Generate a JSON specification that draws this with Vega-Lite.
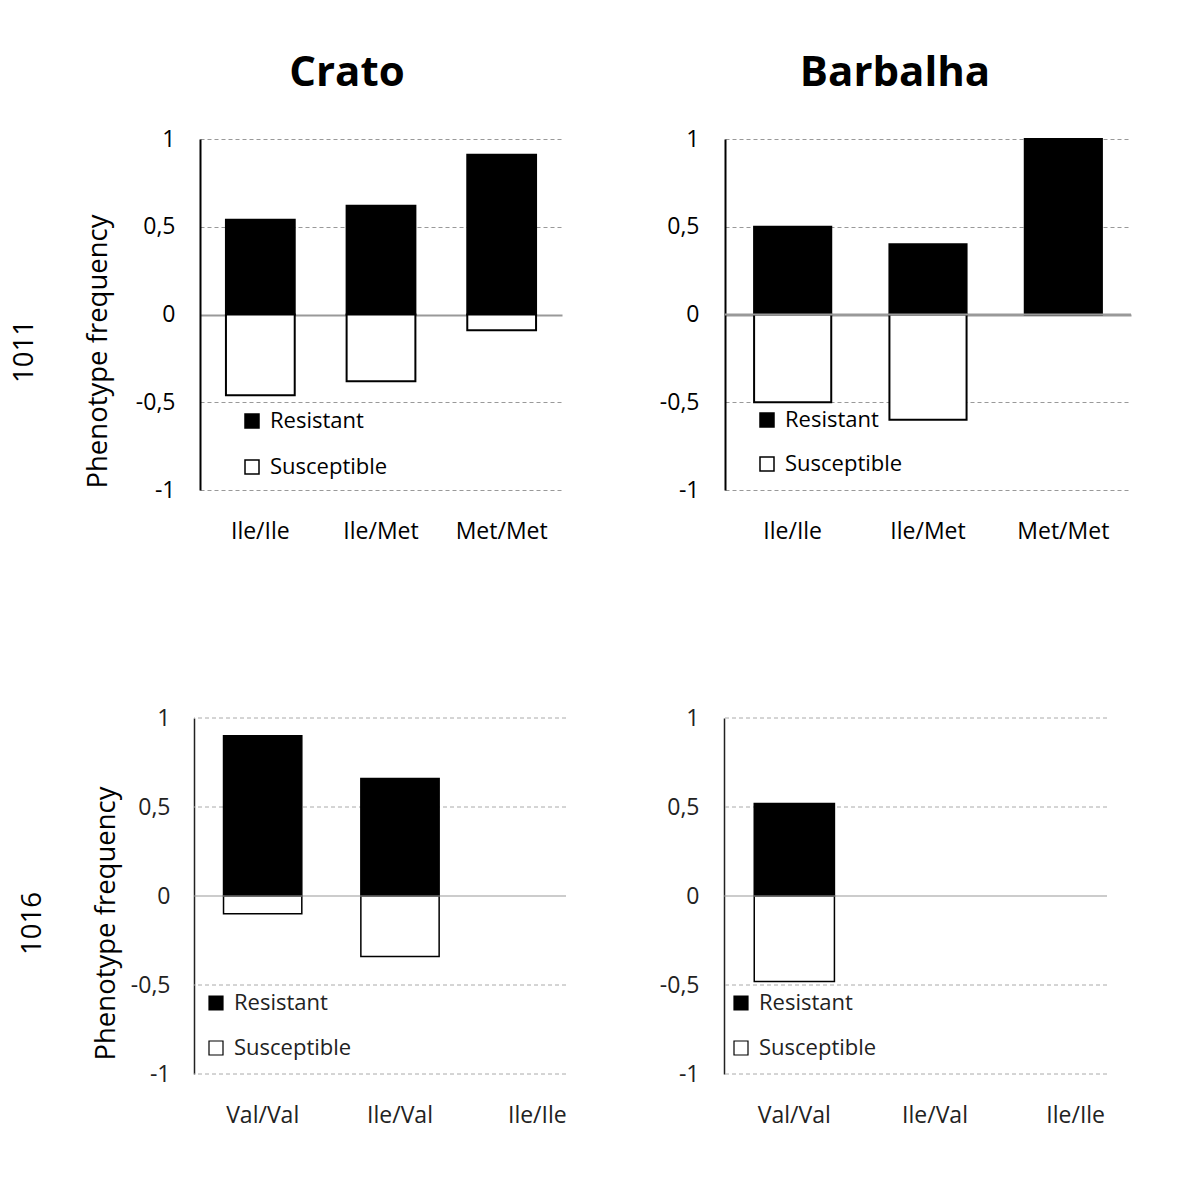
{
  "$schema": "https://vega.github.io/schema/vega-lite/v6.json",
  "background": "white",
  "padding": {"left": 10, "top": 52, "right": 5, "bottom": 5},
  "config": {"view": {"stroke": null}, "font": "Open Sans"},
  "datasets": {
    "freq": [
      {"locus": "1011", "city": "Crato", "genotype": "Ile/Ile", "phenotype": "Resistant", "value": 0.54},
      {"locus": "1011", "city": "Crato", "genotype": "Ile/Ile", "phenotype": "Susceptible", "value": -0.46},
      {"locus": "1011", "city": "Crato", "genotype": "Ile/Met", "phenotype": "Resistant", "value": 0.62},
      {"locus": "1011", "city": "Crato", "genotype": "Ile/Met", "phenotype": "Susceptible", "value": -0.38},
      {"locus": "1011", "city": "Crato", "genotype": "Met/Met", "phenotype": "Resistant", "value": 0.91},
      {"locus": "1011", "city": "Crato", "genotype": "Met/Met", "phenotype": "Susceptible", "value": -0.09},
      {"locus": "1011", "city": "Barbalha", "genotype": "Ile/Ile", "phenotype": "Resistant", "value": 0.5},
      {"locus": "1011", "city": "Barbalha", "genotype": "Ile/Ile", "phenotype": "Susceptible", "value": -0.5},
      {"locus": "1011", "city": "Barbalha", "genotype": "Ile/Met", "phenotype": "Resistant", "value": 0.4},
      {"locus": "1011", "city": "Barbalha", "genotype": "Ile/Met", "phenotype": "Susceptible", "value": -0.6},
      {"locus": "1011", "city": "Barbalha", "genotype": "Met/Met", "phenotype": "Resistant", "value": 1.0},
      {"locus": "1011", "city": "Barbalha", "genotype": "Met/Met", "phenotype": "Susceptible", "value": 0},
      {"locus": "1016", "city": "Crato", "genotype": "Val/Val", "phenotype": "Resistant", "value": 0.9},
      {"locus": "1016", "city": "Crato", "genotype": "Val/Val", "phenotype": "Susceptible", "value": -0.1},
      {"locus": "1016", "city": "Crato", "genotype": "Ile/Val", "phenotype": "Resistant", "value": 0.66},
      {"locus": "1016", "city": "Crato", "genotype": "Ile/Val", "phenotype": "Susceptible", "value": -0.34},
      {"locus": "1016", "city": "Barbalha", "genotype": "Val/Val", "phenotype": "Resistant", "value": 0.52},
      {"locus": "1016", "city": "Barbalha", "genotype": "Val/Val", "phenotype": "Susceptible", "value": -0.48}
    ]
  },
  "resolve": {"scale": {"fill": "independent"}, "legend": {"fill": "independent"}},
  "columns": 1,
  "align": "none",
  "spacing": 164,
  "concat": [
    {
      "spacing": 97,
      "resolve": {"scale": {"fill": "independent"}, "legend": {"fill": "independent"}},
      "hconcat": [
        {
          "width": 368, "height": 351,
          "title": {"text": "Crato", "fontSize": 42, "fontWeight": "bold", "font": "Open Sans", "anchor": "middle", "frame": "group", "dx": -31, "offset": -9, "baseline": "bottom", "color": "black"},
          "data": {"name": "freq"},
          "transform": [{"filter": "datum.locus == '1011' && datum.city == 'Crato' && datum.value != 0"}],
          "layer": [
            {
              "mark": {"type": "bar", "stroke": "black", "strokeWidth": 2},
              "encoding": {
                "x": {"field": "genotype", "type": "nominal", "sort": null, "title": null,
                  "scale": {"domain": ["Ile/Ile", "Ile/Met", "Met/Met"], "range": [6, 368], "paddingInner": 0.43, "paddingOuter": 0.215},
                  "axis": {"domain": false, "ticks": false, "tickSize": 0, "labelFontSize": 23, "labelPadding": 30, "labelAngle": 0, "labelColor": "black", "labelFont": "Open Sans"}},
                "y": {"field": "value", "type": "quantitative", "stack": null, "scale": {"domain": [-1, 1]},
                  "axis": {"offset": -6, "values": [-1, -0.5, 0, 0.5, 1], "labelExpr": "replace(toString(datum.value), '.', ',')", "grid": true,
                    "gridDash": {"condition": {"test": "datum.value === 0", "value": [1, 0]}, "value": [4, 3]},
                    "gridColor": "#999",
                    "gridWidth": {"condition": {"test": "datum.value === 0", "value": 2.2}, "value": 1},
                    "ticks": false, "tickSize": 0, "domainColor": "black", "domainWidth": 2, "labelFontSize": 23, "labelPadding": 25, "labelColor": "black", "labelFont": "Open Sans",
                    "title": ["1011", "Phenotype frequency"], "titleFont": "Open Sans", "titleFontSize": 27.5, "titleFontWeight": "normal", "titleColor": "black", "titleLineHeight": 74, "titlePadding": 23, "titleY": 212}},
                "fill": {"field": "phenotype", "type": "nominal",
                  "scale": {"domain": ["Resistant", "Susceptible"], "range": ["black", "white"]},
                  "legend": {"orient": "none", "legendX": 47, "legendY": 271, "title": null, "symbolType": "square", "symbolSize": 196, "symbolStrokeColor": "black", "symbolStrokeWidth": 1.5, "labelFontSize": 22, "labelFont": "Open Sans", "labelOffset": 7, "rowPadding": 24, "labelColor": "black"}}
              }
            }
          ]
        },
        {
          "width": 406, "height": 351,
          "title": {"text": "Barbalha", "fontSize": 42, "fontWeight": "bold", "font": "Open Sans", "anchor": "middle", "frame": "group", "dx": -33, "offset": -9, "baseline": "bottom", "color": "black"},
          "data": {"name": "freq"},
          "transform": [{"filter": "datum.locus == '1011' && datum.city == 'Barbalha' && datum.value != 0"}],
          "layer": [
            {
              "mark": {"type": "bar", "stroke": "black", "strokeWidth": 2},
              "encoding": {
                "x": {"field": "genotype", "type": "nominal", "sort": null, "title": null,
                  "scale": {"domain": ["Ile/Ile", "Ile/Met", "Met/Met"], "paddingInner": 0.43, "paddingOuter": 0.215},
                  "axis": {"domain": false, "ticks": false, "tickSize": 0, "labelFontSize": 23, "labelPadding": 30, "labelAngle": 0, "labelColor": "black", "labelFont": "Open Sans"}},
                "y": {"field": "value", "type": "quantitative", "stack": null, "scale": {"domain": [-1, 1]},
                  "axis": {"values": [-1, -0.5, 0, 0.5, 1], "labelExpr": "replace(toString(datum.value), '.', ',')", "grid": true,
                    "gridDash": {"condition": {"test": "datum.value === 0", "value": [1, 0]}, "value": [4, 3]},
                    "gridColor": "#999",
                    "gridWidth": {"condition": {"test": "datum.value === 0", "value": 2.2}, "value": 1},
                    "ticks": false, "tickSize": 0, "domainColor": "black", "domainWidth": 2, "labelFontSize": 23, "labelPadding": 26, "labelColor": "black", "labelFont": "Open Sans", "title": null}},
                "fill": {"field": "phenotype", "type": "nominal",
                  "scale": {"domain": ["Resistant", "Susceptible"], "range": ["black", "white"]},
                  "legend": {"orient": "none", "legendX": 31, "legendY": 270, "title": null, "symbolType": "square", "symbolSize": 196, "symbolStrokeColor": "black", "symbolStrokeWidth": 1.5, "labelFontSize": 22, "labelFont": "Open Sans", "labelOffset": 7, "rowPadding": 22, "labelColor": "black"}}
              }
            },
            {"mark": {"type": "rule", "color": "#999", "strokeWidth": 2}, "data": {"values": [{}]}, "encoding": {"y": {"datum": 0}}}
          ]
        }
      ]
    },
    {
      "spacing": 53,
      "resolve": {"scale": {"fill": "independent"}, "legend": {"fill": "independent"}},
      "hconcat": [
        {
          "width": 372, "height": 356,
          "data": {"name": "freq"},
          "transform": [{"filter": "datum.locus == '1016' && datum.city == 'Crato' && datum.value != 0"}],
          "layer": [
            {"mark": {"type": "rule", "color": "#aaa", "strokeWidth": 1, "strokeDash": [4, 3]}, "data": {"values": [{}]}, "encoding": {"y": {"datum": 1}}},
            {"mark": {"type": "rule", "color": "#aaa", "strokeWidth": 1, "strokeDash": [4, 3]}, "data": {"values": [{}]}, "encoding": {"y": {"datum": 0.5}}},
            {"mark": {"type": "rule", "color": "#aaa", "strokeWidth": 1, "strokeDash": [4, 3]}, "data": {"values": [{}]}, "encoding": {"y": {"datum": -0.5}}},
            {"mark": {"type": "rule", "color": "#aaa", "strokeWidth": 1, "strokeDash": [4, 3]}, "data": {"values": [{}]}, "encoding": {"y": {"datum": -1}}},
            {
              "mark": {"type": "bar", "stroke": "black", "strokeWidth": 1.5},
              "encoding": {
                "x": {"field": "genotype", "type": "nominal", "sort": null, "title": null,
                  "scale": {"domain": ["Val/Val", "Ile/Val", "Ile/Ile"], "range": [0, 412], "paddingInner": 0.43, "paddingOuter": 0.215},
                  "axis": {"domain": false, "ticks": false, "tickSize": 0, "labelFontSize": 23, "labelPadding": 30, "labelAngle": 0, "labelColor": "#222", "labelFont": "Open Sans"}},
                "y": {"field": "value", "type": "quantitative", "stack": null, "scale": {"domain": [-1, 1]},
                  "axis": {"values": [-1, -0.5, 0, 0.5, 1], "labelExpr": "replace(toString(datum.value), '.', ',')", "grid": false, "ticks": false, "tickSize": 0, "domainColor": "#222", "domainWidth": 1.5, "labelFontSize": 23, "labelPadding": 24, "labelColor": "#222", "labelFont": "Open Sans",
                    "title": ["1016", "Phenotype frequency"], "titleFont": "Open Sans", "titleFontSize": 27.5, "titleFontWeight": "normal", "titleColor": "black", "titleLineHeight": 74, "titlePadding": 10, "titleY": 205}},
                "fill": {"field": "phenotype", "type": "nominal",
                  "scale": {"domain": ["Resistant", "Susceptible"], "range": ["black", "white"]},
                  "legend": {"orient": "none", "legendX": 11, "legendY": 274, "title": null, "symbolType": "square", "symbolSize": 196, "symbolStrokeColor": "black", "symbolStrokeWidth": 1.2, "labelFontSize": 22, "labelFont": "Open Sans", "labelOffset": 7, "rowPadding": 23, "labelColor": "#222"}}
              }
            },
            {"mark": {"type": "rule", "color": "#999", "strokeWidth": 1.2}, "data": {"values": [{}]}, "encoding": {"y": {"datum": 0}}}
          ]
        },
        {
          "width": 383, "height": 356,
          "data": {"name": "freq"},
          "transform": [{"filter": "datum.locus == '1016' && datum.city == 'Barbalha' && datum.value != 0"}],
          "layer": [
            {"mark": {"type": "rule", "color": "#aaa", "strokeWidth": 1, "strokeDash": [4, 3]}, "data": {"values": [{}]}, "encoding": {"y": {"datum": 1}}},
            {"mark": {"type": "rule", "color": "#aaa", "strokeWidth": 1, "strokeDash": [4, 3]}, "data": {"values": [{}]}, "encoding": {"y": {"datum": 0.5}}},
            {"mark": {"type": "rule", "color": "#aaa", "strokeWidth": 1, "strokeDash": [4, 3]}, "data": {"values": [{}]}, "encoding": {"y": {"datum": -0.5}}},
            {"mark": {"type": "rule", "color": "#aaa", "strokeWidth": 1, "strokeDash": [4, 3]}, "data": {"values": [{}]}, "encoding": {"y": {"datum": -1}}},
            {
              "mark": {"type": "bar", "stroke": "black", "strokeWidth": 1.5},
              "encoding": {
                "x": {"field": "genotype", "type": "nominal", "sort": null, "title": null,
                  "scale": {"domain": ["Val/Val", "Ile/Val", "Ile/Ile"], "range": [0, 422], "paddingInner": 0.43, "paddingOuter": 0.215},
                  "axis": {"domain": false, "ticks": false, "tickSize": 0, "labelFontSize": 23, "labelPadding": 30, "labelAngle": 0, "labelColor": "#222", "labelFont": "Open Sans"}},
                "y": {"field": "value", "type": "quantitative", "stack": null, "scale": {"domain": [-1, 1]},
                  "axis": {"values": [-1, -0.5, 0, 0.5, 1], "labelExpr": "replace(toString(datum.value), '.', ',')", "grid": false, "ticks": false, "tickSize": 0, "domainColor": "#222", "domainWidth": 1.5, "labelFontSize": 23, "labelPadding": 25, "labelColor": "#222", "labelFont": "Open Sans", "title": null}},
                "fill": {"field": "phenotype", "type": "nominal",
                  "scale": {"domain": ["Resistant", "Susceptible"], "range": ["black", "white"]},
                  "legend": {"orient": "none", "legendX": 6, "legendY": 274, "title": null, "symbolType": "square", "symbolSize": 196, "symbolStrokeColor": "black", "symbolStrokeWidth": 1.2, "labelFontSize": 22, "labelFont": "Open Sans", "labelOffset": 7, "rowPadding": 23, "labelColor": "#222"}}
              }
            },
            {"mark": {"type": "rule", "color": "#999", "strokeWidth": 1.2}, "data": {"values": [{}]}, "encoding": {"y": {"datum": 0}}}
          ]
        }
      ]
    }
  ]
}
